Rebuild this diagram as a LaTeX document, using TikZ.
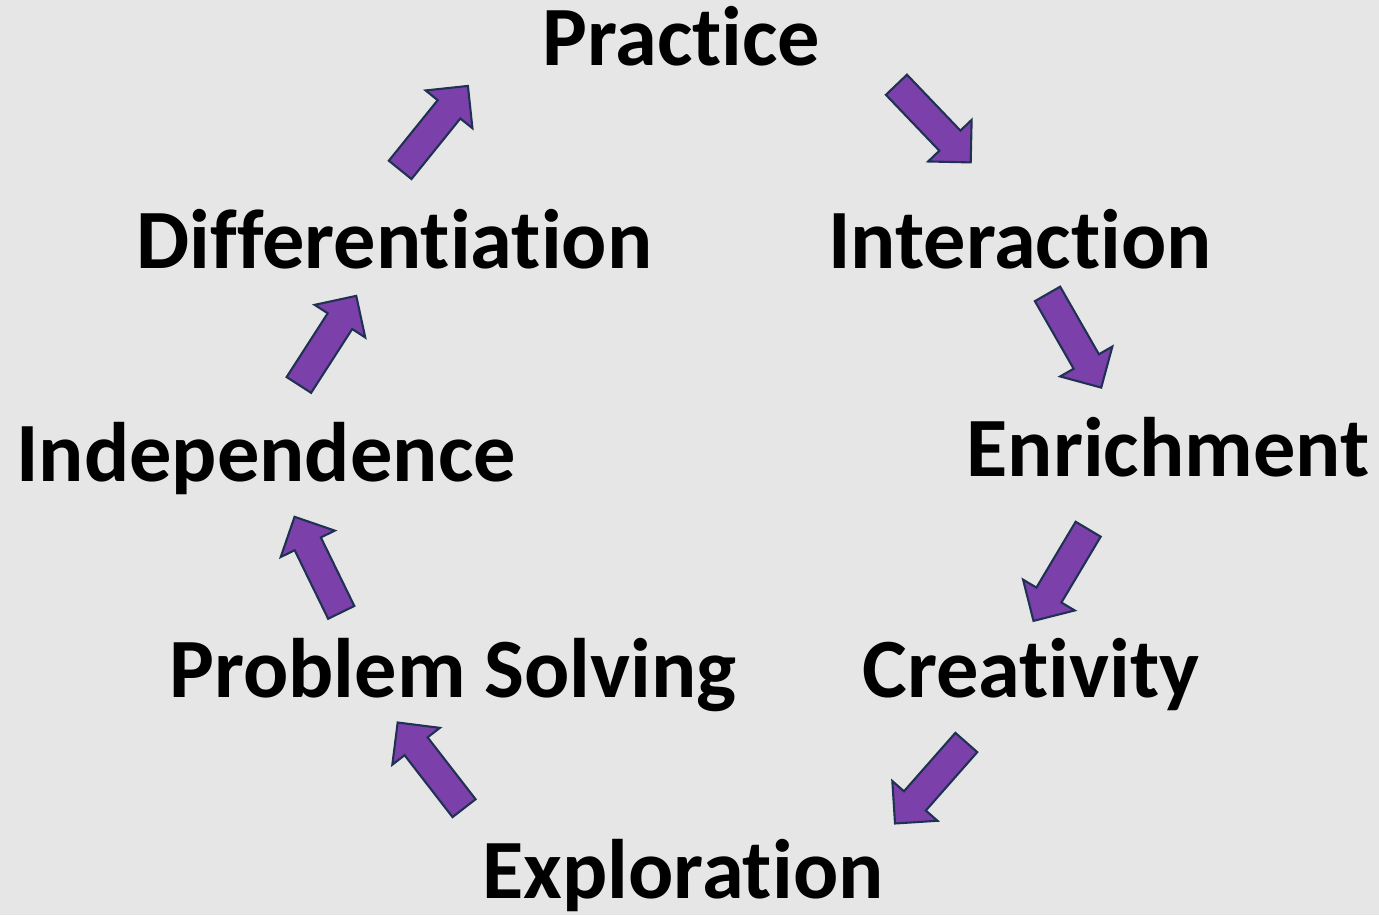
\documentclass[tikz,border=0pt]{standalone}
\usepackage{fontspec}
\setmainfont{Carlito}[Ligatures={NoCommon,NoContextual,NoRare}]
\usetikzlibrary{shapes.arrows,calc}
\definecolor{bggray}{RGB}{231,230,230}
\definecolor{flowpurple}{RGB}{124,64,170}
\definecolor{flowline}{RGB}{32,50,84}
\tikzset{
  word/.style={font=\bfseries\fontsize{24}{28}\selectfont, anchor=base, inner sep=0pt},
  flow/.style={single arrow, draw=flowline, fill=flowpurple, line width=0.6pt,
    inner sep=0pt, inner ysep=0.135cm, single arrow head extend=0.155cm,
    minimum width=0pt, sloped, allow upside down}
}
\begin{document}
\begin{tikzpicture}[x=0.01cm,y=-0.01cm]
\path[use as bounding box, fill=bggray] (0,0) rectangle (1379,915);
% the eight words
\node[word] (practice) at (681.5,65) {Practice};
\node[word] (interaction) at (1020,268) {Interaction};
\node[word] (enrichment) at (1168,476) {Enrichment};
\node[word] (creativity) at (1031,697) {Creativity};
\node[word] (exploration) at (683,898) {Exploration};
\node[word] (problem) at (453,697) {Problem Solving};
\node[word] (independence) at (266,481) {Independence};
\node[word] (differentiation) at (394.5,268) {Differentiation};
% arrow tails and tips
\coordinate (t1) at (895.7,84);  \coordinate (h1) at (970,161.7);
\coordinate (t2) at (1047,293);  \coordinate (h2) at (1100.7,386.7);
\coordinate (t3) at (1088.7,528.3); \coordinate (h3) at (1034,620);
\coordinate (t4) at (967,741.7); \coordinate (h4) at (895.7,822.7);
\coordinate (t5) at (464.7,809); \coordinate (h5) at (398.3,723.3);
\coordinate (t6) at (341.7,613.3); \coordinate (h6) at (295,517.7);
\coordinate (t7) at (298.3,385.8); \coordinate (h7) at (355.7,296.7);
\coordinate (t8) at (399.5,170.7); \coordinate (h8) at (467.3,86.7);
\foreach \i in {1,...,8}
  \path let \p1=($(h\i)-(t\i)$), \n1={veclen(\x1,\y1)} in
    (t\i) -- (h\i) node[flow, pos=0, anchor=tail, minimum height=\n1] {};
\end{tikzpicture}
\end{document}
